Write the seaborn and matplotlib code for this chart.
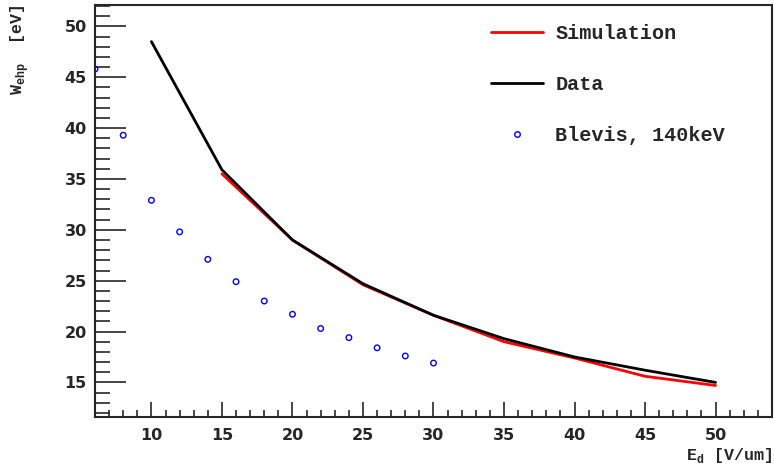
import matplotlib
matplotlib.use("Agg")
import matplotlib.pyplot as plt
from matplotlib.ticker import MultipleLocator
from matplotlib.lines import Line2D
import seaborn as sns

# drift field [V/um] and W_ehp [eV]
field_data = [10, 15, 20, 25, 30, 35, 40, 45, 50]
w_data = [48.5, 35.9, 29.0, 24.7, 21.6, 19.3, 17.5, 16.2, 15.0]

field_sim = [15, 20, 25, 30, 35, 40, 45, 50]
w_sim = [35.5, 29.0, 24.6, 21.6, 19.0, 17.4, 15.6, 14.7]

field_blevis = [6, 8, 10, 12, 14, 16, 18, 20, 22, 24, 26, 28, 30]
w_blevis = [45.8, 39.3, 32.9, 29.8, 27.1, 24.9, 23.0, 21.7, 20.3, 19.4, 18.4, 17.6, 16.9]

sns.set_style("ticks")
plt.rcParams['font.family'] = ['DejaVu Sans']
plt.rcParams['font.weight'] = 'bold'
plt.rcParams['mathtext.fontset'] = 'custom'
plt.rcParams['mathtext.rm'] = 'Liberation Mono:bold'
plt.rcParams['mathtext.bf'] = 'Liberation Mono:bold'

fig = plt.figure(figsize=(7.74, 4.68), dpi=100)
ax = fig.add_axes([95 / 774, 51 / 468, 677 / 774, 412 / 468])

sns.lineplot(x=field_sim, y=w_sim, color='red', lw=2, ax=ax)
sns.lineplot(x=field_data, y=w_data, color='black', lw=2, ax=ax)
sns.scatterplot(x=field_blevis, y=w_blevis, marker='o', s=16, facecolors='none',
                edgecolor='blue', linewidth=1, ax=ax, zorder=3)

ax.set_xlim(6, 54)
ax.set_ylim(11.6, 52.1)
ax.xaxis.set_major_locator(MultipleLocator(5))
ax.xaxis.set_minor_locator(MultipleLocator(1))
ax.yaxis.set_major_locator(MultipleLocator(5))
ax.yaxis.set_minor_locator(MultipleLocator(1))
ax.set_xticks([10, 15, 20, 25, 30, 35, 40, 45, 50])
ax.tick_params(axis='both', which='both', direction='in', top=False, right=False,
               labelsize=11.5, width=1.2)
ax.tick_params(axis='x', which='major', length=11, pad=8)
ax.tick_params(axis='x', which='minor', length=5)
ax.tick_params(axis='y', which='major', length=22, pad=6)
ax.tick_params(axis='y', which='minor', length=11)
for sp in ax.spines.values():
    sp.set_linewidth(1.5)

ax.set_xlabel(r'E$_{\rm d}$ [V/um]', family='Liberation Mono', weight='bold',
              fontsize=12, loc='right')
ax.xaxis.set_label_coords(1.0, -0.07)
ax.set_ylabel(r'W$_{\rm ehp}$  [eV]', family='Liberation Mono', weight='bold',
              fontsize=12, loc='top')
ax.yaxis.set_label_coords(-0.094, 1.0)

handles = [
    Line2D([], [], color='red', lw=2),
    Line2D([], [], color='black', lw=2),
    Line2D([], [], marker='o', ls='none', markerfacecolor='none',
           markeredgecolor='blue', markersize=4, markeredgewidth=1),
]
ax.legend(handles, ['Simulation', 'Data', 'Blevis, 140keV'], frameon=False,
          loc='upper left', bbox_to_anchor=(491 / 774, 1 - 24 / 468),
          bbox_transform=fig.transFigure, borderpad=0, borderaxespad=0,
          handlelength=2.6, handletextpad=0.6, labelspacing=1.6,
          prop={'family': 'Liberation Mono', 'weight': 'bold', 'size': 14.5})

fig.savefig('out.png', dpi=100)
